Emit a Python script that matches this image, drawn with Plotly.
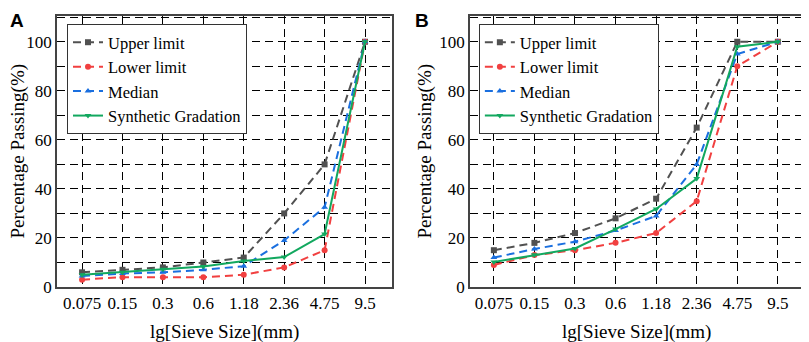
import plotly.graph_objects as go

sieve = ["0.075", "0.15", "0.3", "0.6", "1.18", "2.36", "4.75", "9.5"]

a_upper = [6, 7, 8, 10, 12, 30, 50, 100]
a_lower = [3, 4, 4, 4, 5, 8, 15, 100]
a_median = [4.5, 5.5, 6, 7, 8.5, 19, 32.5, 100]
a_synth = [5, 6, 7.2, 8.4, 10.6, 12.2, 21.6, 100]

b_upper = [15, 18, 22, 28, 36, 65, 100, 100]
b_lower = [9, 13, 15, 18, 22, 35, 90, 100]
b_median = [12, 15.5, 18.5, 23, 29, 50, 95, 100]
b_synth = [10.2, 13.1, 15.7, 23.6, 31.8, 44.2, 98, 100]

names = ["Upper limit", "Lower limit", "Median", "Synthetic Gradation"]
colors = ["#515151", "#F14040", "#1A6FDF", "#12A85F"]
symbols = ["square", "circle", "triangle-up", "triangle-down"]
dashes = ["dash", "dash", "dash", "solid"]

FONT = "Liberation Serif"
SANS = "Liberation Sans"
fig = go.Figure()

panels = [
    ("x", "y", "legend", [a_upper, a_lower, a_median, a_synth]),
    ("x2", "y2", "legend2", [b_upper, b_lower, b_median, b_synth]),
]
xs = list(range(len(sieve)))
for xa, ya, lg, series in panels:
    for name, vals, col, sym, dsh in zip(names, series, colors, symbols, dashes):
        fig.add_trace(go.Scatter(
            x=xs, y=vals, name=name, xaxis=xa, yaxis=ya, legend=lg,
            mode="lines+markers",
            line=dict(color=col, width=2, dash="8px,5px" if dsh == "dash" else "solid"),
            marker=dict(symbol=sym, size=6, color=col),
        ))

axis_common = dict(
    showline=True, linecolor="#444444", linewidth=1.5, mirror=True,
    showgrid=True, gridcolor="#000000", gridwidth=1.3, griddash="8px,5px",
    zeroline=False, ticks="", tickfont=dict(family=FONT, size=17, color="#000"),
)

leg_common = dict(xanchor="left", yanchor="top", bgcolor="white",
                  bordercolor="#333", borderwidth=1,
                  font=dict(family=FONT, size=16.5, color="#000"),
                  tracegroupgap=0, itemwidth=30)

# The page body adds an 8px offset; compensate so the figure lands like the reference
fig.update_layout(
    width=801, height=334,
    margin=dict(l=49, r=4, t=8, b=55),
    plot_bgcolor="white", paper_bgcolor="white",
    font=dict(family=FONT, color="#000"),
    xaxis=dict(domain=[0, 0.4492], range=[-0.62, 7.67], tickmode="array",
               tickvals=xs, ticktext=sieve, **axis_common),
    yaxis=dict(range=[0, 110.5], tickvals=[0, 20, 40, 60, 80, 100],
               **axis_common),
    xaxis2=dict(domain=[0.5535, 1], range=[-0.59, 7.62], tickmode="array",
                tickvals=xs, ticktext=sieve, anchor="y2", **axis_common),
    yaxis2=dict(range=[0, 110.5], tickvals=[0, 20, 40, 60, 80, 100],
                anchor="x2", **axis_common),
    legend=dict(x=0.0134, y=0.9705, **leg_common),
    legend2=dict(x=0.5655, y=0.9705, **leg_common),
    showlegend=True,
)

for ax in ("yaxis", "yaxis2"):
    fig.layout[ax].minor = dict(dtick=10, showgrid=True, gridcolor="#000000",
                                gridwidth=1.3, griddash="8px,5px", ticks="")

title_font = dict(family=FONT, size=19, color="#000")
fig.update_layout(annotations=[
    dict(text="<b>A</b>", x=-0.0655, y=1.0295, xref="paper", yref="paper",
         xanchor="left", yanchor="top", showarrow=False,
         font=dict(family=SANS, size=19, color="#000")),
    dict(text="<b>B</b>", x=0.477, y=1.0295, xref="paper", yref="paper",
         xanchor="left", yanchor="top", showarrow=False,
         font=dict(family=SANS, size=19, color="#000")),
    dict(text="lg[Sieve Size](mm)", xref="paper", yref="paper",
         x=0.2246, y=-0.165, yanchor="middle", xanchor="center",
         showarrow=False, font=title_font),
    dict(text="lg[Sieve Size](mm)", xref="paper", yref="paper",
         x=0.7768, y=-0.165, yanchor="middle", xanchor="center",
         showarrow=False, font=title_font),
    dict(text="Percentage Passing(%)", xref="paper", yref="paper",
         x=-0.0535, y=0.5, textangle=-90, xanchor="center", yanchor="middle",
         showarrow=False, font=title_font),
    dict(text="Percentage Passing(%)", xref="paper", yref="paper",
         x=0.492, y=0.5, textangle=-90, xanchor="center", yanchor="middle",
         showarrow=False, font=title_font),
])

fig.write_html("out.html")
